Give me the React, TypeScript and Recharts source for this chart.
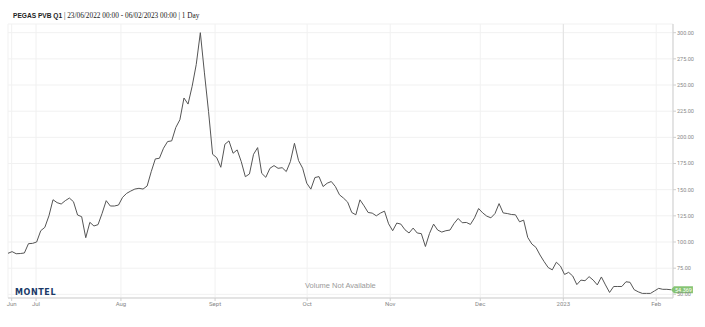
import React from 'react';
import {
  LineChart,
  Line,
  XAxis,
  YAxis,
  CartesianGrid,
  ReferenceLine,
  ReferenceDot,
} from 'recharts';

// daily settlement prices, one per trading day, 23/06/2022 -> 06/02/2023
const prices = [
  89.2, 90.8, 88.8, 89.0, 89.5, 98.4, 98.7, 100.0, 110.8, 114.0,
  125.0, 140.4, 137.6, 136.3, 139.5, 142.0, 138.5, 125.8, 124.2, 104.1,
  118.8, 115.3, 116.6, 127.4, 139.5, 134.4, 134.4, 135.3, 142.7, 146.5,
  148.7, 150.6, 151.3, 150.6, 153.5, 167.2, 179.4, 180.0, 189.6, 196.0,
  196.6, 209.4, 216.8, 237.6, 231.8, 248.8, 269.6, 300.0, 261.6, 224.8,
  183.8, 180.6, 171.4, 193.4, 196.6, 184.8, 188.0, 176.8, 162.4, 165.0,
  183.8, 190.2, 165.6, 161.8, 170.4, 173.0, 170.4, 171.0, 167.3, 176.8,
  194.3, 177.8, 170.5, 156.2, 150.5, 161.6, 162.5, 153.0, 156.2, 157.8,
  153.0, 145.1, 141.9, 138.1, 128.2, 126.0, 140.3, 134.6, 128.2, 127.6,
  125.0, 127.6, 129.5, 117.4, 110.8, 118.1, 117.1, 111.7, 108.6, 113.3,
  108.6, 108.0, 95.7, 108.2, 117.1, 111.4, 109.5, 110.8, 111.4, 117.7,
  122.5, 118.4, 118.7, 116.8, 123.1, 132.0, 127.8, 124.7, 123.1, 127.2,
  136.7, 127.8, 127.2, 126.3, 126.0, 119.3, 120.9, 104.4, 98.1, 94.9,
  87.6, 81.3, 75.6, 73.4, 80.7, 77.0, 69.0, 71.0, 67.5, 59.3,
  63.6, 63.0, 66.9, 63.6, 59.0, 66.6, 59.0, 51.8, 57.5, 57.5,
  57.5, 62.0, 61.5, 54.5, 52.4, 50.9, 50.9, 50.9, 53.3, 55.7,
  54.8, 54.8, 54.369,
];

// month ticks, in trading-day positions
const monthTicks = [0.9, 6.85, 27.6, 50.6, 73.1, 93.4, 115.4, 135.7, 158.4];
const monthLabels = ['Jun', 'Jul', 'Aug', 'Sept', 'Oct', 'Nov', 'Dec', '2023', 'Feb'];
const yearTick = 135.7;

const priceTicks = [50, 75, 100, 125, 150, 175, 200, 225, 250, 275, 300];

const data = prices.map((v, i) => ({ i, v }));
const last = data[data.length - 1];

const LastTag = ({ cx, cy }: any) => {
  if (cx == null || cy == null) return null;
  return (
    <g>
      <polygon
        points={`${cx},${cy} ${cx + 3},${cy - 3.5} ${cx + 22},${cy - 3.5} ${cx + 22},${cy + 3.5} ${cx + 3},${cy + 3.5}`}
        fill="#86c474"
      />
      <text
        x={cx + 12.5}
        y={cy + 2}
        textAnchor="middle"
        fontSize={5.5}
        fill="#fff"
        fontFamily="Roboto, sans-serif"
      >
        {last.v.toFixed(3)}
      </text>
    </g>
  );
};

export default function App() {
  return (
    <div style={{ position: 'absolute', left: 0, top: 0, width: 705, height: 327, background: '#fff' }}>
      <div
        style={{
          position: 'absolute',
          left: 13,
          top: 11,
          fontSize: 7.3,
          color: '#222',
          fontFamily: '"Liberation Serif", serif',
          whiteSpace: 'nowrap',
        }}
      >
        <span style={{ fontFamily: '"Liberation Sans", Arial, sans-serif', fontWeight: 700, fontSize: 6.6 }}>
          PEGAS PVB Q1
        </span>
        {' | 23/06/2022 00:00 - 06/02/2023 00:00 | 1 Day'}
      </div>
      <LineChart width={705} height={327} data={data} margin={{ top: 24, right: 0, bottom: 0, left: 8 }}>
        <CartesianGrid stroke="#f1f1f1" />
        <XAxis
          dataKey="i"
          type="number"
          domain={[0, 162.5]}
          ticks={monthTicks}
          interval={0}
          tickFormatter={(t) => monthLabels[monthTicks.indexOf(t)]}
          height={29}
          tickSize={3}
          tickMargin={1}
          stroke="#cfcfcf"
          tick={{ fontSize: 6, fill: '#888', fontFamily: 'Roboto, sans-serif' }}
          allowDataOverflow
        />
        <YAxis
          orientation="right"
          domain={[46.5, 308.3]}
          ticks={priceTicks}
          interval={0}
          tickFormatter={(v) => v.toFixed(2)}
          width={32}
          tickSize={3}
          tickMargin={1}
          stroke="#cfcfcf"
          tick={{ fontSize: 5.5, fill: '#888', fontFamily: 'Roboto, sans-serif', textAnchor: 'start' }}
          allowDataOverflow
        />
        <ReferenceLine x={yearTick} stroke="#e2e2e2" />
        <Line
          type="linear"
          dataKey="v"
          stroke="#555"
          strokeWidth={1}
          dot={false}
          isAnimationActive={false}
        />
        <ReferenceDot x={last.i} y={last.v} shape={<LastTag />} />
      </LineChart>
      <div
        style={{
          position: 'absolute',
          left: 15,
          top: 288,
          fontSize: 8,
          fontWeight: 800,
          letterSpacing: 0.6,
          color: '#1b3a68',
          fontFamily: '"DejaVu Sans", sans-serif',
        }}
      >
        MONTEL
      </div>
      <div
        style={{
          position: 'absolute',
          left: 305,
          top: 281,
          fontSize: 7.5,
          color: '#9a9a9a',
          fontFamily: '"Liberation Sans", Arial, sans-serif',
          whiteSpace: 'nowrap',
        }}
      >
        Volume Not Available
      </div>
    </div>
  );
}
